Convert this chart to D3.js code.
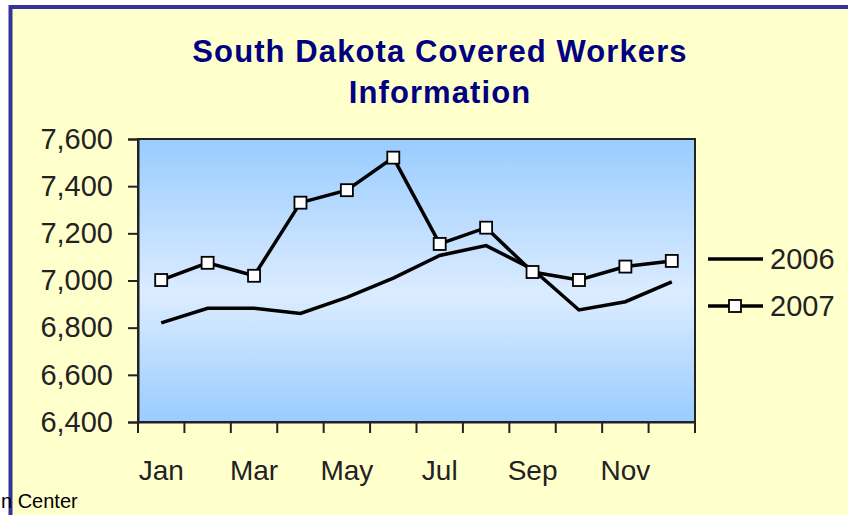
<!DOCTYPE html>
<meta charset="utf-8">
<html>
<head>
  <script src="https://d3js.org/d3.v7.min.js"></script>
  <style>
    body { margin: 0; background: #fff; }
    text { font-family: "Liberation Sans", Arial, sans-serif; }
  </style>
</head>
<body>
<div id="chart"></div>
<script>

// data
var months = ["Jan","Feb","Mar","Apr","May","Jun","Jul","Aug","Sep","Oct","Nov","Dec"];
var labelMonths = ["Jan","Mar","May","Jul","Sep","Nov"];
var values2006 = [6820, 6882, 6882, 6860, 6928, 7010, 7106, 7148, 7048, 6875, 6910, 6994];
var values2007 = [7002, 7075, 7020, 7330, 7383, 7521, 7155, 7224, 7036, 7002, 7059, 7083];
var yTicks = [6400, 6600, 6800, 7000, 7200, 7400, 7600];
var seriesNames = ["2006", "2007"];

var W = 848, H = 515;
var plot = {left: 138, right: 695, top: 139, bottom: 422};

var svg = d3.select("#chart")
  .append("svg")
    .attr("width", W)
    .attr("height", H);

// yellow frame with blue border
svg.append("rect")
  .attr("x", 10.5).attr("y", 7)
  .attr("width", W + 20).attr("height", H + 20)
  .attr("fill", "#ffffcc")
  .attr("stroke", "#333399")
  .attr("stroke-width", 4);

// title
var title = svg.append("text")
  .attr("text-anchor", "middle")
  .attr("font-size", 31)
  .attr("font-weight", "bold")
  .attr("letter-spacing", 1.1)
  .attr("fill", "#000080");
title.append("tspan").attr("x", 440).attr("y", 62).text("South Dakota Covered Workers");
title.append("tspan").attr("x", 440).attr("y", 103).text("Information");

// gradient for plot area
var grad = svg.append("defs").append("linearGradient")
  .attr("id", "bg").attr("x1", 0).attr("y1", 0).attr("x2", 0).attr("y2", 1);
grad.append("stop").attr("offset", "0%").attr("stop-color", "#99ccff");
grad.append("stop").attr("offset", "55%").attr("stop-color", "#dcecff");
grad.append("stop").attr("offset", "100%").attr("stop-color", "#99ccff");

var x = d3.scaleBand()
  .domain(months)
  .range([plot.left, plot.right])
  .padding(0);

var y = d3.scaleLinear()
  .domain([6400, 7600])
  .range([plot.bottom, plot.top]);

svg.append("rect")
  .attr("x", plot.left).attr("y", plot.top)
  .attr("width", plot.right - plot.left)
  .attr("height", plot.bottom - plot.top)
  .attr("fill", "url(#bg)")
  .attr("stroke", "#222")
  .attr("stroke-width", 2);

// Y axis
var yAxis = svg.append("g")
  .attr("transform", "translate(" + plot.left + ",0)")
  .call(d3.axisLeft(y).tickValues(yTicks).tickSize(10).tickPadding(15).tickFormat(d3.format(",")));
yAxis.select(".domain").attr("stroke", "#222").attr("stroke-width", 2);
yAxis.selectAll(".tick line").attr("stroke", "#222").attr("stroke-width", 2);
yAxis.selectAll("text")
  .attr("font-family", "'Liberation Sans', Arial, sans-serif")
  .attr("font-size", 29)
  .attr("fill", "#222");

// X axis: ticks at month boundaries, labels every other month
var bounds = months.map(function(m) { return x(m); }).concat([plot.right]);
svg.append("g").selectAll("line")
  .data(bounds)
  .enter().append("line")
    .attr("x1", function(d) { return d; })
    .attr("x2", function(d) { return d; })
    .attr("y1", plot.bottom)
    .attr("y2", plot.bottom + 11)
    .attr("stroke", "#222")
    .attr("stroke-width", 2);

var xAxis = svg.append("g")
  .attr("transform", "translate(0," + plot.bottom + ")")
  .call(d3.axisBottom(x).tickValues(labelMonths).tickSize(0).tickPadding(38));
xAxis.select(".domain").attr("stroke", "#222").attr("stroke-width", 2);
xAxis.selectAll("text")
  .attr("font-family", "'Liberation Sans', Arial, sans-serif")
  .attr("font-size", 28)
  .attr("fill", "#222");

// lines
var line = d3.line()
  .x(function(d, i) { return x(months[i]) + x.bandwidth() / 2; })
  .y(function(d) { return y(d); });

svg.append("path")
  .datum(values2006)
  .attr("d", line)
  .attr("fill", "none")
  .attr("stroke", "#000")
  .attr("stroke-width", 3.5);

svg.append("path")
  .datum(values2007)
  .attr("d", line)
  .attr("fill", "none")
  .attr("stroke", "#000")
  .attr("stroke-width", 3.5);

svg.selectAll("rect.mark")
  .data(values2007)
  .enter().append("rect")
    .attr("class", "mark")
    .attr("x", function(d, i) { return x(months[i]) + x.bandwidth() / 2 - 6; })
    .attr("y", function(d) { return y(d) - 6; })
    .attr("width", 12)
    .attr("height", 12)
    .attr("fill", "#fff")
    .attr("stroke", "#000")
    .attr("stroke-width", 1.8);

// legend
var legend = svg.append("g");
seriesNames.forEach(function(name, i) {
  var ly = 259 + i * 47;
  legend.append("line")
    .attr("x1", 708).attr("x2", 763)
    .attr("y1", ly).attr("y2", ly)
    .attr("stroke", "#000").attr("stroke-width", 3.5);
  if (name === "2007") {
    legend.append("rect")
      .attr("x", 729).attr("y", ly - 6)
      .attr("width", 12).attr("height", 12)
      .attr("fill", "#fff").attr("stroke", "#000").attr("stroke-width", 1.8);
  }
  legend.append("text")
    .attr("x", 770).attr("y", ly)
    .attr("dy", "0.36em")
    .attr("font-size", 29)
    .attr("fill", "#222")
    .text(name);
});

// source note at bottom left
svg.append("text")
  .attr("x", 1).attr("y", 508)
  .attr("font-size", 20)
  .attr("fill", "#000")
  .text("n Center");

</script>
</body>
</html>
